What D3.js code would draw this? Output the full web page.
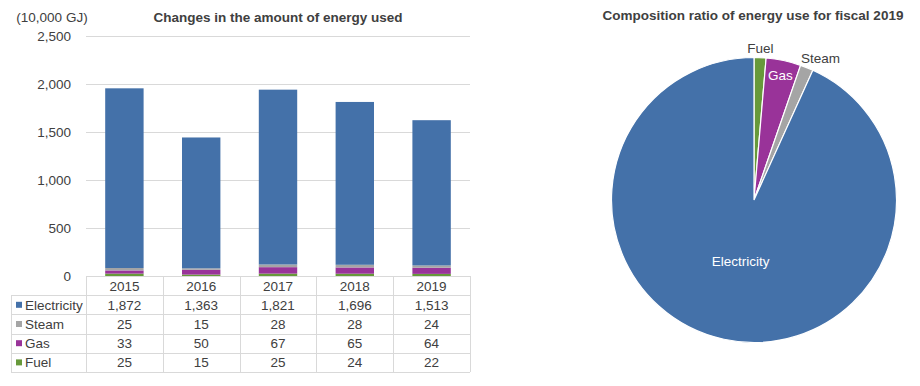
<!DOCTYPE html>
<html>
<head>
<meta charset="utf-8">
<script src="https://cdn.jsdelivr.net/npm/d3@7"></script>
<style>
  body { margin: 0; background: #fff; }
  svg { display: block; font-family: "Liberation Sans", Arial, sans-serif; }
</style>
</head>
<body>
<div id="chart"></div>
<script>
const width = 920;
const height = 386;

// data
const years = ["2015", "2016", "2017", "2018", "2019"];
const seriesNames = ["Electricity", "Steam", "Gas", "Fuel"];
const electricity = [1872, 1363, 1821, 1696, 1513];
const steam = [25, 15, 28, 28, 24];
const gas = [33, 50, 67, 65, 64];
const fuel = [25, 15, 25, 24, 22];
const yTicks = [0, 500, 1000, 1500, 2000, 2500];
const pieYear = "2019";

const colors = {
  Electricity: "#4471A9",
  Steam: "#A5A5A5",
  Gas: "#993399",
  Fuel: "#67993A"
};
const textColor = "#404040";
const lineColor = "#D9D9D9";

const values = { Electricity: electricity, Steam: steam, Gas: gas, Fuel: fuel };
const rows = years.map((yr, i) => {
  const r = { year: yr };
  seriesNames.forEach((s) => (r[s] = values[s][i]));
  return r;
});

const svg = d3.create("svg").attr("width", width).attr("height", height);

// ---------- stacked bar chart ----------
const x = d3.scaleBand().domain(years).range([86, 470]);
const y = d3.scaleLinear().domain([0, 2500]).range([276, 36]);

svg.append("text")
  .attr("x", 52).attr("y", 22)
  .attr("text-anchor", "middle")
  .attr("font-size", "13.5px")
  .attr("fill", textColor)
  .text("(10,000 GJ)");

svg.append("text")
  .attr("x", 278).attr("y", 22)
  .attr("text-anchor", "middle")
  .attr("font-size", "13.5px")
  .attr("font-weight", "bold")
  .attr("fill", textColor)
  .text("Changes in the amount of energy used");

// gridlines
svg.append("g")
  .selectAll("line")
  .data(yTicks.filter((d) => d > 0))
  .join("line")
  .attr("x1", 86).attr("x2", 470)
  .attr("y1", (d) => Math.round(y(d)) + 0.5)
  .attr("y2", (d) => Math.round(y(d)) + 0.5)
  .attr("stroke", lineColor);

const yAxis = svg.append("g")
  .attr("transform", "translate(76,0)")
  .call(d3.axisLeft(y).tickValues(yTicks).tickFormat(d3.format(",")).tickSize(0).tickPadding(5));
yAxis.select(".domain").remove();
yAxis.selectAll("text")
  .attr("font-size", "13.5px")
  .attr("font-family", "Liberation Sans, Arial, sans-serif")
  .attr("fill", textColor);

const stackOrder = ["Fuel", "Gas", "Steam", "Electricity"];
const stacked = d3.stack().keys(stackOrder)(rows);
const barW = x.bandwidth() * 0.5;

svg.append("g")
  .selectAll("g")
  .data(stacked)
  .join("g")
  .attr("fill", (d) => colors[d.key])
  .selectAll("rect")
  .data((d) => d)
  .join("rect")
  .attr("x", (d) => x(d.data.year) + (x.bandwidth() - barW) / 2)
  .attr("y", (d) => y(d[1]))
  .attr("width", barW)
  .attr("height", (d) => y(d[0]) - y(d[1]));

// ---------- data table ----------
const rowScale = d3.scaleBand().domain(["header", ...seriesNames]).range([276, 372]);
const table = svg.append("g");

// horizontal lines
table.selectAll("line.h")
  .data(["header", ...seriesNames, "end"])
  .join("line")
  .attr("class", "h")
  .attr("x1", (d) => (d === "header" ? 86 : 11))
  .attr("x2", 470)
  .attr("y1", (d) => Math.round(d === "end" ? 372 : rowScale(d)) + 0.5)
  .attr("y2", (d) => Math.round(d === "end" ? 372 : rowScale(d)) + 0.5)
  .attr("stroke", lineColor);

// vertical lines
table.selectAll("line.v")
  .data([...years.map((yr) => x(yr)), 470])
  .join("line")
  .attr("class", "v")
  .attr("x1", (d) => Math.round(d) + 0.5)
  .attr("x2", (d) => Math.round(d) + 0.5)
  .attr("y1", 276).attr("y2", 372)
  .attr("stroke", lineColor);
table.append("line")
  .attr("x1", 11.5).attr("x2", 11.5)
  .attr("y1", rowScale("Electricity")).attr("y2", 372)
  .attr("stroke", lineColor);

// header years
table.selectAll("text.year")
  .data(years)
  .join("text")
  .attr("class", "year")
  .attr("x", (d) => x(d) + x.bandwidth() / 2)
  .attr("y", rowScale("header") + rowScale.bandwidth() / 2 + 5)
  .attr("text-anchor", "middle")
  .attr("font-size", "13.5px")
  .attr("fill", textColor)
  .text((d) => d);

// row labels + legend keys
const rowG = table.selectAll("g.row")
  .data(seriesNames)
  .join("g")
  .attr("class", "row")
  .attr("transform", (d) => `translate(0,${rowScale(d) + rowScale.bandwidth() / 2})`);

rowG.append("rect")
  .attr("x", 16).attr("y", -3)
  .attr("width", 6).attr("height", 6)
  .attr("fill", (d) => colors[d]);

rowG.append("text")
  .attr("x", 25).attr("y", 5)
  .attr("font-size", "13.5px")
  .attr("fill", textColor)
  .text((d) => d);

rowG.selectAll("text.val")
  .data((s) => rows.map((r) => ({ year: r.year, v: r[s] })))
  .join("text")
  .attr("class", "val")
  .attr("x", (d) => x(d.year) + x.bandwidth() / 2)
  .attr("y", 5)
  .attr("text-anchor", "middle")
  .attr("font-size", "13.5px")
  .attr("fill", textColor)
  .text((d) => d3.format(",")(d.v));

// ---------- pie chart ----------
svg.append("text")
  .attr("x", 753).attr("y", 20)
  .attr("text-anchor", "middle")
  .attr("font-size", "13.5px")
  .attr("font-weight", "bold")
  .attr("fill", textColor)
  .text("Composition ratio of energy use for fiscal " + pieYear);

const pieRow = rows.find((r) => r.year === pieYear);
const pieOrder = ["Fuel", "Gas", "Steam", "Electricity"];
const pieData = d3.pie().sort(null).value((d) => pieRow[d])(pieOrder);
const R = 142.5;
const arc = d3.arc().innerRadius(0).outerRadius(R);

const pieG = svg.append("g").attr("transform", "translate(754,200)");
pieG.selectAll("path")
  .data(pieData)
  .join("path")
  .attr("d", arc)
  .attr("fill", (d) => colors[d.data])
  .attr("stroke", "#fff")
  .attr("stroke-width", 1.2);

// label placement: radius, nudge and colour per slice
const labelRadius = { Fuel: 152, Gas: 127, Steam: 158, Electricity: 63 };
const labelNudge = { Fuel: [0, 0], Gas: [0, 0], Steam: [8, 5], Electricity: [0, 0] };
const labelInside = { Fuel: false, Gas: true, Steam: false, Electricity: true };
pieG.selectAll("text")
  .data(pieData)
  .join("text")
  .attr("transform", (d) => {
    const r = labelRadius[d.data];
    const c = d3.arc().innerRadius(r).outerRadius(r).centroid(d);
    const n = labelNudge[d.data];
    return `translate(${c[0] + n[0]},${c[1] + n[1]})`;
  })
  .attr("dy", "0.35em")
  .attr("text-anchor", "middle")
  .attr("font-size", "13.5px")
  .attr("fill", (d) => (labelInside[d.data] ? "#fff" : textColor))
  .text((d) => d.data);

document.getElementById("chart").appendChild(svg.node());
</script>
</body>
</html>
